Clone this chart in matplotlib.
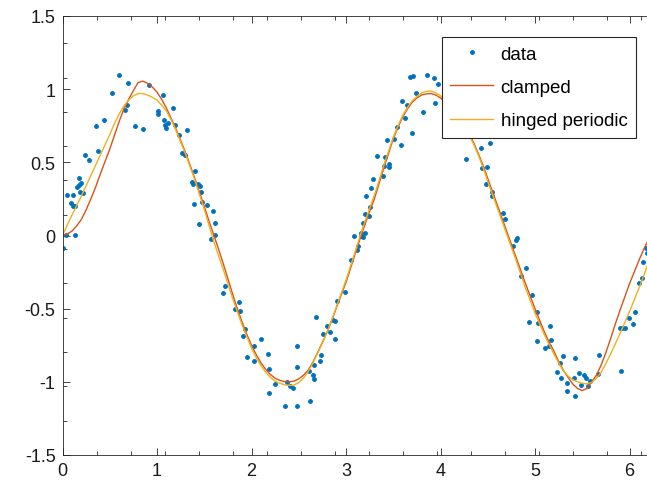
import numpy as np
import matplotlib
matplotlib.use('Agg')
import matplotlib.pyplot as plt
from matplotlib.ticker import FixedLocator

plt.rcParams['font.family'] = ['Liberation Sans', 'DejaVu Sans']

# noisy samples
data_x = [0.009, 0.037, 0.129, 0.051, 0.114, 0.093, 0.108, 0.136, 0.178, 0.157,
          0.171, 0.192, 0.185, 0.220, 0.241, 0.277, 0.354, 0.376, 0.439, 0.524,
          0.594, 0.693, 0.665, 0.686, 0.764, 0.848, 0.919, 1.060, 1.011, 1.011,
          1.074, 1.081, 1.095, 1.116, 1.173, 1.187, 1.229, 1.314, 1.265, 1.300,
          1.399, 1.370, 1.384, 1.434, 1.455, 1.392, 1.469, 1.476, 1.448, 1.532,
          1.589, 1.610, 1.610, 1.575,
          1.723, 1.695, 1.864, 1.829, 1.878, 1.935, 1.913, 2.026, 2.097, 1.956,
          2.026, 2.175, 2.182, 2.252, 2.182, 2.379, 2.407, 2.436, 2.485, 2.478,
          2.358, 2.478, 2.619, 2.605, 2.654, 2.661, 2.661, 2.725, 2.732, 2.683,
          2.760, 2.802, 2.831, 2.859, 2.887, 2.887, 2.901,
          3.085, 3.155, 3.184, 3.205, 3.162, 3.127, 3.120, 3.056, 2.986,
          3.677, 3.712, 3.860, 3.931, 3.974, 3.741, 3.593, 3.642, 3.811, 3.939,
          3.628, 3.698, 3.537, 3.508, 3.437, 3.585, 3.325, 3.416, 3.402, 3.452,
          3.458, 3.395, 3.283, 3.268, 3.212, 3.254, 3.205, 3.240, 3.177,
          4.270, 4.432, 4.439, 4.489, 4.481, 4.524,
          4.545, 4.545, 4.665, 4.686, 4.813, 4.799, 4.764,
          4.905, 4.848, 4.968, 5.025, 4.940, 5.032, 5.159, 5.025, 5.102, 5.166,
          5.145, 5.265, 5.300, 5.420, 5.229, 5.278, 5.342, 5.413, 5.469, 5.519,
          5.540, 5.582, 5.483, 5.561, 5.667, 5.680, 5.335, 5.420, 5.913, 5.899,
          5.921, 5.956, 6.034, 5.998, 6.061, 6.097, 6.132, 6.146, 6.182, 6.175]
data_y = [-0.087, 0.003, 0.003, 0.279, 0.279, 0.222, 0.199, 0.199, 0.393, 0.329,
          0.345, 0.358, 0.295, 0.288, 0.549, 0.515, 0.745, 0.577, 0.790, 0.973,
          1.096, 1.041, 0.861, 0.891, 0.745, 0.729, 1.029, 0.959, 0.848, 0.827,
          0.790, 0.754, 0.732, 0.768, 0.870, 0.756, 0.684, 0.718, 0.563, 0.549,
          0.438, 0.367, 0.352, 0.354, 0.336, 0.217, 0.295, 0.231, 0.081, 0.208,
          0.169, 0.085, 0.003, -0.024,
          -0.345, -0.390, -0.452, -0.500, -0.515, -0.638, -0.684, -0.752, -0.709, -0.827,
          -0.855, -0.811, -0.911, -1.018, -1.073, -0.998, -1.030, -1.039, -0.900, -0.754,
          -1.162, -1.162, -1.134, -0.929, -0.950, -0.982, -0.882, -0.857, -0.816, -0.558,
          -0.675, -0.616, -0.657, -0.579, -0.584, -0.704, -0.447,
          -0.006, -0.006, -0.010, 0.017, 0.017, -0.074, -0.097, -0.169, -0.383,
          1.084, 1.087, 1.096, 1.075, 1.034, 0.977, 0.918, 0.889, 0.845, 0.907,
          0.802, 0.702, 0.743, 0.657, 0.652, 0.618, 0.545, 0.534, 0.476, 0.486,
          0.466, 0.408, 0.386, 0.322, 0.272, 0.195, 0.145, 0.135, 0.087,
          0.522, 0.595, 0.459, 0.470, 0.352, 0.629,
          0.295, 0.270, 0.154, 0.113, -0.015, -0.029, -0.070,
          -0.222, -0.274, -0.404, -0.520, -0.588, -0.597, -0.618, -0.720, -0.766, -0.716,
          -0.752, -0.868, -0.825, -0.838, -0.934, -0.977, -1.007, -0.973, -0.943, -0.952,
          -0.975, -0.993, -1.020, -1.029, -0.945, -0.816, -1.066, -1.100, -0.923, -0.633,
          -0.629, -0.633, -0.606, -0.565, -0.520, -0.322, -0.288, -0.183, -0.119, -0.083]

# fitted curves, values read every 0.05 from x = 0 to 6.3
curve_x = [round(0.05 * i, 2) for i in range(127)]
clamped = [0.00, 0.01, 0.03, 0.065, 0.11, 0.175, 0.25, 0.33, 0.42, 0.505,
           0.59, 0.685, 0.78, 0.865, 0.93, 0.99, 1.045, 1.055, 1.04, 1.015,
           0.98, 0.93, 0.87, 0.80, 0.73, 0.65, 0.57, 0.48, 0.39, 0.295,
           0.20, 0.10, 0.005, -0.09, -0.19, -0.295, -0.40, -0.50, -0.59, -0.675,
           -0.75, -0.815, -0.87, -0.915, -0.95, -0.975, -0.99, -0.998, -1.00, -0.995,
           -0.98, -0.955, -0.92, -0.865, -0.80, -0.73, -0.66, -0.58, -0.49, -0.405,
           -0.32, -0.22, -0.12, -0.02, 0.075, 0.165, 0.25, 0.355, 0.46, 0.56,
           0.66, 0.74, 0.81, 0.865, 0.91, 0.94, 0.96, 0.968, 0.97, 0.96,
           0.94, 0.915, 0.88, 0.845, 0.80, 0.755, 0.70, 0.635, 0.56, 0.48,
           0.39, 0.30, 0.21, 0.12, 0.03, -0.06, -0.15, -0.24, -0.33, -0.415,
           -0.50, -0.58, -0.66, -0.73, -0.79, -0.86, -0.92, -0.97, -1.015, -1.045,
           -1.06, -1.045, -1.00, -0.955, -0.885, -0.80, -0.705, -0.605, -0.51, -0.42,
           -0.33, -0.25, -0.17, -0.095, -0.03, 0.01, 0.03]
hinged = [0.00, 0.07, 0.14, 0.205, 0.27, 0.34, 0.41, 0.48, 0.55, 0.62,
          0.69, 0.765, 0.83, 0.885, 0.925, 0.955, 0.97, 0.97, 0.96, 0.945,
          0.925, 0.89, 0.85, 0.79, 0.72, 0.64, 0.56, 0.47, 0.38, 0.28,
          0.18, 0.07, -0.04, -0.135, -0.23, -0.33, -0.43, -0.52, -0.61, -0.69,
          -0.77, -0.835, -0.89, -0.935, -0.97, -0.995, -1.01, -1.02, -1.025, -1.022,
          -1.005, -0.975, -0.93, -0.87, -0.805, -0.735, -0.66, -0.575, -0.485, -0.395,
          -0.305, -0.205, -0.105, 0.00, 0.095, 0.185, 0.275, 0.375, 0.48, 0.575,
          0.67, 0.75, 0.82, 0.875, 0.92, 0.95, 0.975, 0.985, 0.988, 0.975,
          0.955, 0.925, 0.89, 0.845, 0.80, 0.75, 0.69, 0.625, 0.55, 0.465,
          0.37, 0.28, 0.19, 0.10, 0.01, -0.08, -0.17, -0.265, -0.36, -0.445,
          -0.53, -0.605, -0.68, -0.745, -0.81, -0.87, -0.925, -0.96, -0.985, -1.00,
          -1.01, -1.014, -1.005, -0.975, -0.935, -0.875, -0.81, -0.74, -0.67, -0.595,
          -0.52, -0.44, -0.36, -0.275, -0.185, -0.09, 0.00]

xticks = [0, 1, 2, 3, 4, 5, 6]
yticks = [-1.5, -1, -0.5, 0, 0.5, 1, 1.5]
ytick_labels = ['-1.5', '-1', '-0.5', '0', '0.5', '1', '1.5']

fig = plt.figure(figsize=(6.47, 4.89), dpi=100)
W, H = 647, 489
x0, x_unit = 62.5, 94.5
top, bottom = 17, 456
ax = fig.add_axes([x0 / W, 1 - bottom / H, 2 * np.pi * x_unit / W, (bottom - top) / H])

ax.plot(data_x, data_y, '.', color='#0072BD', markersize=5, label='data')
ax.plot(curve_x, clamped, '-', color='#D95319', lw=1.0, label='clamped')
ax.plot(curve_x, hinged, '-', color='#EDB120', lw=1.0, label='hinged periodic')

ax.set_xlim(0, 2 * np.pi)
ax.set_ylim(-1.5, 1.5)
ax.set_xticks(xticks)
ax.set_xticklabels([str(t) for t in xticks])
ax.set_yticks(yticks)
ax.set_yticklabels(ytick_labels)
ax.xaxis.set_minor_locator(FixedLocator(np.arange(0, 6.3, 0.36)))
ax.yaxis.set_minor_locator(FixedLocator(np.arange(-1.5, 1.5, 0.2345)))

axcol = '#262626'
for s in ax.spines.values():
    s.set_color(axcol)
    s.set_linewidth(0.6)
ax.tick_params(which='both', direction='in', top=True, right=True, colors=axcol,
               width=0.6, labelsize=13, labelcolor='#1a1a1a')
ax.tick_params(which='major', length=5, pad=5)
ax.tick_params(which='minor', length=3)

leg = ax.legend(loc='upper right', bbox_to_anchor=(636 / W, 1 - 38 / H),
                bbox_transform=fig.transFigure, fontsize=13.5, fancybox=False,
                framealpha=1, edgecolor='#262626', borderaxespad=0,
                handlelength=2.25, handletextpad=0.43, labelspacing=0.87,
                borderpad=0.45, markerscale=1.0)
leg.get_frame().set_linewidth(0.8)

fig.savefig('out.png', dpi=100)
